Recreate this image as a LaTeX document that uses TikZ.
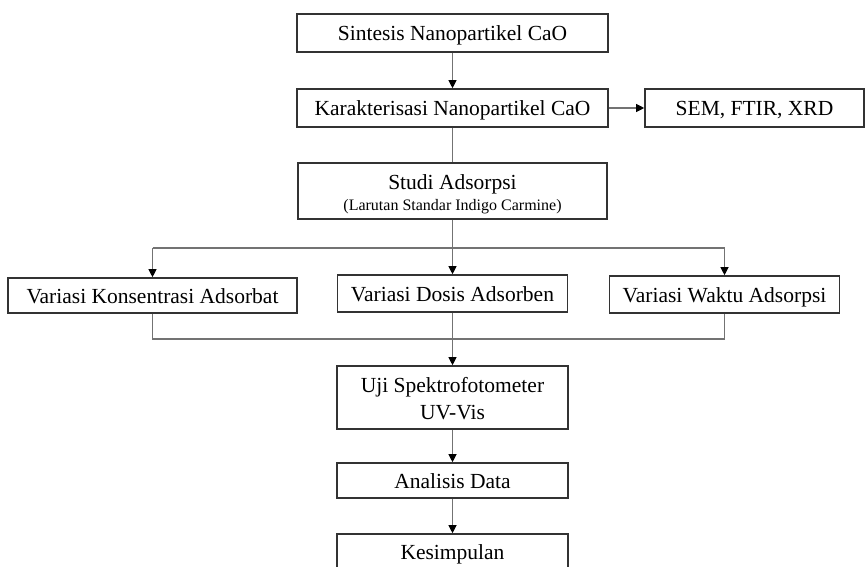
\documentclass[tikz,border=0pt]{standalone}
\usepackage{fontspec}
\setmainfont{Liberation Serif}
\usetikzlibrary{arrows.meta}
\begin{document}
\begin{tikzpicture}[x=1pt,y=-1pt,
  box/.style={draw=black!80,line width=1.6pt,inner sep=0pt,align=center,
    font=\fontsize{21.5}{27}\selectfont,fill=white},
  one/.style={text height=17pt,text depth=2pt},
  conn/.style={draw=black!55,line width=1.1pt},
  arr/.style={conn,-{Triangle[length=8pt,width=8pt,color=black]}}]
\clip (0,0) rectangle (865,567);
\fill[white] (0,0) rectangle (865,567);
\node[box,one,minimum width=311pt,minimum height=38pt] (s1) at (452.5,33) {Sintesis Nanopartikel CaO};
\node[box,one,minimum width=311pt,minimum height=38pt] (s2) at (452.5,108) {Karakterisasi Nanopartikel CaO};
\node[box,one,minimum width=219pt,minimum height=38pt] (sem) at (754.5,108) {SEM, FTIR, XRD};
\node[box,minimum width=309pt,minimum height=56pt] (studi) at (452.5,191) {\rule{0pt}{21pt}Studi Adsorpsi\\[-6pt]{\fontsize{16}{20}\selectfont (Larutan Standar Indigo Carmine)}};
\node[box,one,minimum width=289pt,minimum height=35pt] (v1) at (152.5,295.5) {Variasi Konsentrasi Adsorbat};
\node[box,one,minimum width=230pt,minimum height=37pt] (v2) at (452.5,293.5) {Variasi Dosis Adsorben};
\node[box,one,minimum width=230pt,minimum height=37pt] (v3) at (724.5,294.5) {Variasi Waktu Adsorpsi};
\node[box,minimum width=231pt,minimum height=63pt] (uji) at (452.5,397.5) {\rule{0pt}{17pt}Uji Spektrofotometer\\UV-Vis};
\node[box,one,minimum width=231pt,minimum height=35pt] (ana) at (452.5,480.5) {Analisis Data};
\node[box,one,minimum width=231pt,minimum height=35pt] (kes) at (452.5,551.5) {Kesimpulan};
\coordinate (top) at (452.5,248);
\coordinate (bot) at (452.5,339);
\draw[arr] (s1) -- (s2);
\draw[arr] (s2) -- (sem);
\draw[conn] (s2) -- (studi);
\draw[conn] (studi.south) -- (top);
\draw[conn] (v1.north |- top) -- (v3.north |- top);
\draw[arr] (v1.north |- top) -- (v1.north);
\draw[arr] (top) -- (v2.north);
\draw[arr] (v3.north |- top) -- (v3.north);
\draw[conn] (v1.south) -- (v1.south |- bot) -- (v3.south |- bot) -- (v3.south);
\draw[conn] (v2.south) -- (bot);
\draw[arr] (bot) -- (uji.north);
\draw[arr] (uji) -- (ana);
\draw[arr] (ana) -- (kes);
\end{tikzpicture}
\end{document}
